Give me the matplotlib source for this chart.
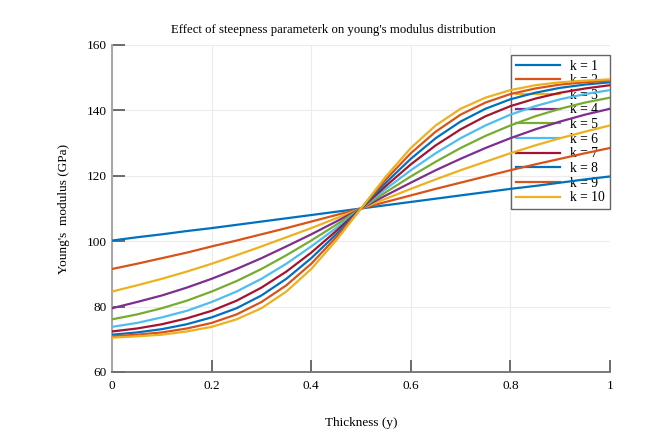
import matplotlib
matplotlib.use("Agg")
import matplotlib.pyplot as plt

plt.rcParams['font.family'] = ['Liberation Serif', 'DejaVu Serif']

thickness = [0.0, 0.05, 0.1, 0.15, 0.2, 0.25, 0.3, 0.35, 0.4, 0.45, 0.5,
             0.55, 0.6, 0.65, 0.7, 0.75, 0.8, 0.85, 0.9, 0.95, 1.0]

E_k1 = [100.2, 101.2, 102.1, 103.1, 104.0, 105.0, 106.0, 107.0, 108.0, 109.0, 110.0,
        111.0, 112.0, 113.0, 114.0, 115.0, 116.0, 116.9, 117.9, 118.9, 119.8]
E_k2 = [91.5, 93.1, 94.8, 96.5, 98.4, 100.2, 102.1, 104.0, 106.0, 108.0, 110.0,
        112.0, 114.0, 116.0, 117.9, 119.8, 121.7, 123.5, 125.2, 126.9, 128.5]
E_k3 = [84.6, 86.5, 88.5, 90.7, 93.1, 95.7, 98.4, 101.2, 104.0, 107.0, 110.0,
        113.0, 116.0, 118.9, 121.7, 124.3, 126.9, 129.3, 131.5, 133.5, 135.4]
E_k4 = [79.5, 81.4, 83.4, 85.8, 88.5, 91.5, 94.8, 98.4, 102.1, 106.0, 110.0,
        114.0, 117.9, 121.7, 125.2, 128.5, 131.5, 134.2, 136.6, 138.7, 140.5]
E_k5 = [76.1, 77.6, 79.5, 81.8, 84.6, 87.8, 91.5, 95.7, 100.2, 105.0, 110.0,
        115.0, 119.8, 124.3, 128.5, 132.2, 135.4, 138.2, 140.5, 142.4, 143.9]
E_k6 = [73.8, 75.0, 76.7, 78.7, 81.4, 84.6, 88.5, 93.1, 98.4, 104.0, 110.0,
        116.0, 121.7, 126.9, 131.5, 135.4, 138.7, 141.3, 143.4, 145.0, 146.2]
E_k7 = [72.4, 73.3, 74.6, 76.4, 78.7, 81.8, 85.8, 90.7, 96.5, 103.1, 110.0,
        116.9, 123.5, 129.3, 134.2, 138.2, 141.3, 143.6, 145.4, 146.7, 147.7]
E_k8 = [71.4, 72.1, 73.1, 74.6, 76.7, 79.5, 83.4, 88.5, 94.8, 102.1, 110.0,
        117.9, 125.2, 131.5, 136.6, 140.5, 143.4, 145.4, 146.9, 147.9, 148.6]
E_k9 = [70.9, 71.4, 72.1, 73.3, 75.0, 77.6, 81.4, 86.5, 93.1, 101.2, 110.0,
        118.9, 126.9, 133.5, 138.7, 142.4, 145.0, 146.7, 147.9, 148.6, 149.1]
E_k10 = [70.5, 70.9, 71.4, 72.4, 73.8, 76.1, 79.5, 84.6, 91.5, 100.2, 110.0,
         119.8, 128.5, 135.4, 140.5, 143.9, 146.2, 147.7, 148.6, 149.1, 149.5]

series = [E_k1, E_k2, E_k3, E_k4, E_k5, E_k6, E_k7, E_k8, E_k9, E_k10]
labels = ['k = %d' % i for i in range(1, 11)]
colors = ['#0072BD', '#D95319', '#EDB120', '#7E2F8E', '#77AC30',
          '#4DBEEE', '#A2142F', '#0072BD', '#D95319', '#EDB120']

x_ticks = [0, 0.2, 0.4, 0.6, 0.8, 1]
x_ticklabels = ['0', '0.2', '0.4', '0.6', '0.8', '1']
y_ticks = [60, 80, 100, 120, 140, 160]

fig = plt.figure(figsize=(6.67, 4.36), dpi=100)
ax = fig.add_axes([0.168, 0.1468, 0.7465, 0.75])

for vals, lab, c in zip(series, labels, colors):
    ax.plot(thickness, vals, color=c, lw=1.6, label=lab, zorder=3)

ax.set_xlim(0, 1)
ax.set_ylim(60, 160)
ax.set_xticks(x_ticks)
ax.set_xticklabels(x_ticklabels)
ax.set_yticks(y_ticks)
ax.grid(True, color='#ececec', lw=0.8, zorder=0)
ax.set_axisbelow(True)

for s in ['top', 'right']:
    ax.spines[s].set_visible(False)
ax.spines['left'].set_color('#a8a8a8')
ax.spines['left'].set_linewidth(1.5)
ax.spines['bottom'].set_color('#707070')
ax.spines['bottom'].set_linewidth(1.3)
ax.tick_params(direction='in', length=9, width=1.3, color='#606060',
               labelsize=9.5)
ax.tick_params(axis='x', pad=6)
ax.tick_params(axis='y', pad=4)

fig.text(0.5, 1 - 30 / 436, "Effect of steepness parameterk on young's modulus distribution",
         fontsize=9.2, ha='center', va='center')
ax.set_xlabel('Thickness (y)', fontsize=9.5, labelpad=18)
ax.set_ylabel("Young's  modulus (GPa)", fontsize=9.5, labelpad=12)

leg = ax.legend(loc='upper right', bbox_to_anchor=(1.0, 0.97), fontsize=9.8,
                frameon=True, fancybox=False,
                handlelength=3.2, labelspacing=0.12, borderpad=0.35,
                borderaxespad=0.0, handletextpad=0.8)
leg.get_frame().set_edgecolor('#404040')
leg.get_frame().set_linewidth(1.0)
leg.get_frame().set_facecolor('none')
leg.set_zorder(2)

fig.savefig('out.png', dpi=100)
